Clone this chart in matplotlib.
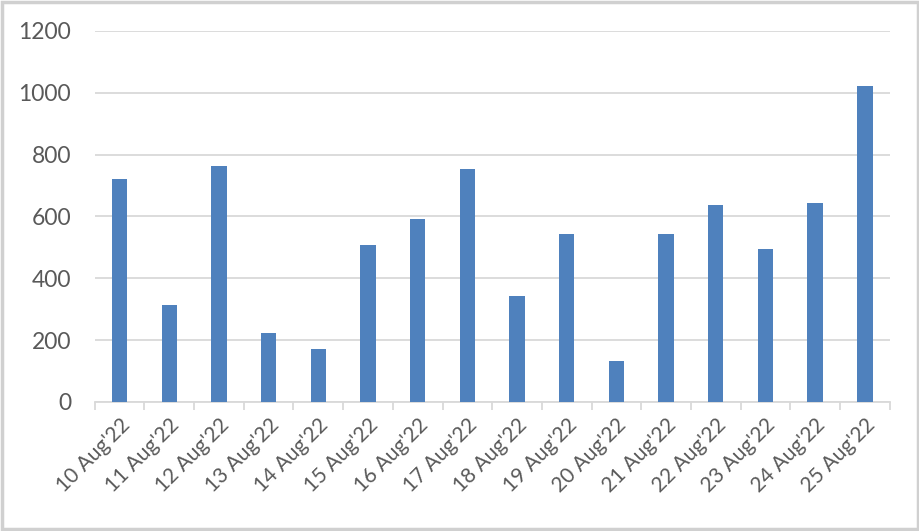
import matplotlib
matplotlib.use("Agg")
import matplotlib.pyplot as plt
from matplotlib.patches import Rectangle

days = ["10 Aug'22", "11 Aug'22", "12 Aug'22", "13 Aug'22", "14 Aug'22",
        "15 Aug'22", "16 Aug'22", "17 Aug'22", "18 Aug'22", "19 Aug'22",
        "20 Aug'22", "21 Aug'22", "22 Aug'22", "23 Aug'22", "24 Aug'22",
        "25 Aug'22"]
values = [720, 314, 763, 222, 171, 508, 592, 754, 343, 543,
          133, 543, 637, 495, 644, 1022]
y_ticks = [0, 200, 400, 600, 800, 1000, 1200]


def main():
    plt.rcParams['font.family'] = ['Lato', 'DejaVu Sans']
    fig = plt.figure(figsize=(9.2, 5.31), dpi=100)
    ax = fig.add_axes([0.103, 0.243, 0.864, 0.699])

    x = list(range(len(days)))
    ax.bar(x, values, width=0.31, color="#4F81BD", zorder=3)

    ax.set_ylim(0, 1200)
    ax.set_xlim(-0.5, len(days) - 0.5)
    ax.set_yticks(y_ticks)
    ax.set_yticklabels([str(v) for v in y_ticks])
    ax.yaxis.grid(True, color="#D9D9D9", linewidth=1.3, zorder=0)

    # labels at category centres, tick marks at category edges
    ax.set_xticks(x)
    ax.set_xticklabels(days, rotation=45, ha="right", va="top",
                       rotation_mode="anchor")
    ax.set_xticks([i - 0.5 for i in range(len(days) + 1)], minor=True)
    ax.tick_params(axis="x", which="major", length=0, pad=9,
                   labelsize=15, labelcolor="#595959")
    ax.tick_params(axis="x", which="minor", length=6, color="#D9D9D9",
                   width=1.3)
    ax.tick_params(axis="y", length=0, pad=17, labelsize=16.5,
                   labelcolor="#595959")

    for side in ["left", "right", "top"]:
        ax.spines[side].set_visible(False)
    ax.spines["bottom"].set_color("#D9D9D9")
    ax.spines["bottom"].set_linewidth(1.3)

    fig.patches.append(Rectangle((0.002, 0.004), 0.996, 0.992,
                                 transform=fig.transFigure, fill=False,
                                 edgecolor="#D0D0D0", linewidth=2.5))

    fig.savefig("out.png", dpi=100)


if __name__ == "__main__":
    main()
